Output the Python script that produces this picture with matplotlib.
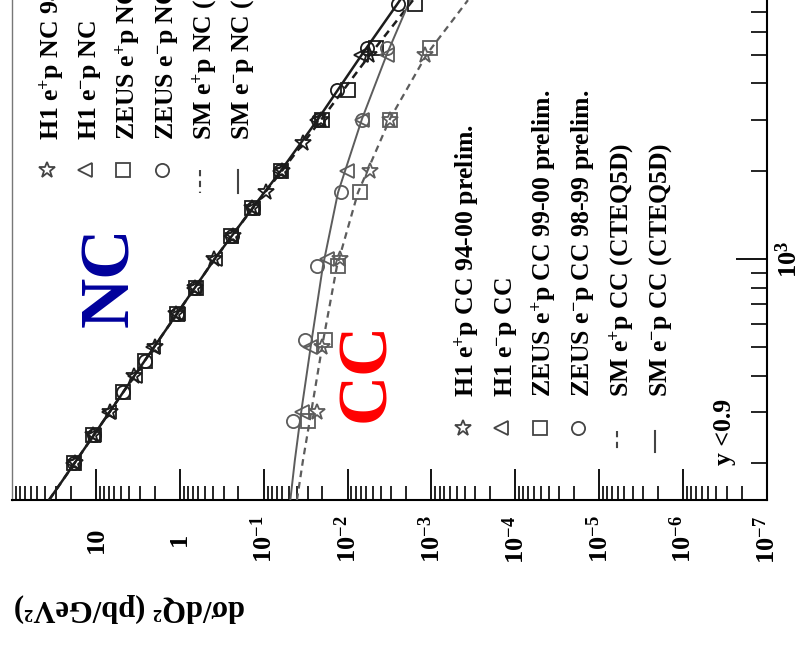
import matplotlib
matplotlib.use('Agg')
import matplotlib.pyplot as plt
import numpy as np
from matplotlib.ticker import LogLocator, NullFormatter

plt.rcParams['font.family'] = ['Liberation Serif', 'DejaVu Serif']
plt.rcParams['font.weight'] = 'bold'
plt.rcParams['mathtext.fontset'] = 'custom'
plt.rcParams['mathtext.rm'] = 'Liberation Serif:bold'
plt.rcParams['mathtext.it'] = 'Liberation Serif:italic:bold'
plt.rcParams['mathtext.bf'] = 'Liberation Serif:bold'
plt.rcParams['mathtext.default'] = 'rm'

# --- SM curves (Q2 in GeV^2, dsigma/dQ2 in pb/GeV^2) ---
sm_nc_q2 = [150, 200, 300, 500, 700, 1000, 1500, 2000, 3000, 5000, 7700]
sm_nc_em = [36.2, 18.1, 6.87, 2.03, 0.908, 0.386, 0.135, 0.0630, 0.0228, 0.00680, 0.00237]
sm_nc_ep = [36.2, 18.1, 6.87, 2.03, 0.908, 0.386, 0.134, 0.0610, 0.0207, 0.00543, 0.00166]

sm_cc_q2 = [150, 205, 297, 528, 945, 1690, 3020, 5040, 7700]
sm_cc_em = [0.0481, 0.0425, 0.0359, 0.0268, 0.0197, 0.0130, 0.00673, 0.00339, 0.00180]
sm_cc_ep = [0.0401, 0.0340, 0.0273, 0.0195, 0.0134, 0.00752, 0.00313, 0.00113, 0.000367]

# --- NC data ---
h1_nc_ep_q2 = [200, 250, 300, 400, 500, 650, 800, 1000, 1200, 1500, 1700, 2000, 2500, 3000, 5000]
h1_nc_ep = [17.6, 10.9, 6.7, 3.5, 2.0, 1.10, 0.65, 0.39, 0.235, 0.137, 0.094, 0.060, 0.034, 0.0205, 0.0056]
h1_nc_em_q2 = [200, 250, 300, 400, 500, 650, 800, 1000, 1200, 1500, 2000, 3000, 5000]
h1_nc_em = [18.5, 10.4, 6.9, 3.4, 2.06, 1.06, 0.67, 0.38, 0.245, 0.133, 0.064, 0.0232, 0.0070]
zeus_nc_ep_q2 = [200, 250, 350, 450, 650, 800, 1200, 1500, 2000, 3000, 3800, 5300, 7500]
zeus_nc_ep = [18.0, 10.7, 4.8, 2.58, 1.09, 0.64, 0.243, 0.136, 0.062, 0.0203, 0.0099, 0.0046, 0.00155]
zeus_nc_em_q2 = [200, 250, 350, 450, 650, 800, 1200, 1500, 2000, 3000, 3800, 5300, 7500]
zeus_nc_em = [18.2, 10.5, 4.7, 2.62, 1.07, 0.66, 0.238, 0.134, 0.0635, 0.0226, 0.0133, 0.0059, 0.00252]

# --- CC data ---
h1_cc_ep_q2 = [300, 500, 1000, 2000, 3000, 5000]
h1_cc_ep = [0.0232, 0.0202, 0.0123, 0.00540, 0.00310, 0.00120]
h1_cc_em_q2 = [300, 500, 1000, 2000, 3000, 5000]
h1_cc_em = [0.0350, 0.0281, 0.0176, 0.0102, 0.00670, 0.00340]
zeus_cc_ep_q2 = [280, 530, 950, 1700, 3000, 5300]
zeus_cc_ep = [0.0296, 0.0186, 0.0130, 0.00711, 0.00313, 0.00104]
zeus_cc_em_q2 = [280, 530, 950, 1700, 3000, 5300]
zeus_cc_em = [0.0448, 0.0322, 0.0232, 0.0120, 0.00673, 0.00339]

sigma_ticks = [1e1, 1e0, 1e-1, 1e-2, 1e-3, 1e-4, 1e-5, 1e-6, 1e-7]
sigma_labels = ['10', '1', '$10^{-1}$', '$10^{-2}$', '$10^{-3}$', '$10^{-4}$',
                '$10^{-5}$', '$10^{-6}$', '$10^{-7}$']
q2_ticks = [1e3]
q2_labels = ['$10^{3}$']

nc_labels = ['H1 e$^{+}$p NC 94-00 prelim.', 'H1 e$^{-}$p NC',
             'ZEUS e$^{+}$p NC 99-00 prelim.', 'ZEUS e$^{-}$p NC 98-99 prelim.',
             'SM e$^{+}$p NC (CTEQ5D)', 'SM e$^{-}$p NC (CTEQ5D)']
cc_labels = ['H1 e$^{+}$p CC 94-00 prelim.', 'H1 e$^{-}$p CC',
             'ZEUS e$^{+}$p CC 99-00 prelim.', 'ZEUS e$^{-}$p CC 98-99 prelim.',
             'SM e$^{+}$p CC (CTEQ5D)', 'SM e$^{-}$p CC (CTEQ5D)']

NC_COL = '#1c1c1c'
CC_COL = '#5c5c5c'
DASH = (0, (3, 2.2))
MARKERS = {'h1_ep': '*', 'h1_em': '<', 'zeus_ep': 's', 'zeus_em': 'o'}
MSIZE = {'*': 12, '<': 10, 's': 9.5, 'o': 9.5}

W, H = 812, 651
AX_L, AX_R, AX_B = 12, 767, 500  # pixel frame of the axes (top runs off the image)

fig = plt.figure(figsize=(W / 100, H / 100), dpi=100)
ax = fig.add_axes([AX_L / W, (H - AX_B) / H, (AX_R - AX_L) / W, AX_B / H])
# chart is drawn turned on its side: cross section runs left->right, Q2 runs up
ax.set_xscale('log')
ax.set_yscale('log')
ax.set_xlim(1e2, 1e-7)
ax.set_ylim(150, 7710)


def frac(px, py):
    # pixel position in the picture -> axes fraction
    return (px - AX_L) / (AX_R - AX_L), (AX_B - py) / AX_B


def draw_points(q2, sig, marker, col):
    ax.plot(sig, q2, ls='none', marker=marker, ms=MSIZE[marker], mfc='none',
            mec=col, mew=1.3, zorder=4)


# SM lines
ax.plot(sm_nc_ep, sm_nc_q2, color=NC_COL, lw=1.8, ls=DASH, zorder=3)
ax.plot(sm_nc_em, sm_nc_q2, color=NC_COL, lw=1.8, zorder=3)
ax.plot(sm_cc_ep, sm_cc_q2, color=CC_COL, lw=1.6, ls=DASH, zorder=3)
ax.plot(sm_cc_em, sm_cc_q2, color=CC_COL, lw=1.4, zorder=3)

# data
draw_points(h1_nc_ep_q2, h1_nc_ep, MARKERS['h1_ep'], NC_COL)
draw_points(h1_nc_em_q2, h1_nc_em, MARKERS['h1_em'], NC_COL)
draw_points(zeus_nc_ep_q2, zeus_nc_ep, MARKERS['zeus_ep'], NC_COL)
draw_points(zeus_nc_em_q2, zeus_nc_em, MARKERS['zeus_em'], NC_COL)
draw_points(h1_cc_ep_q2, h1_cc_ep, MARKERS['h1_ep'], CC_COL)
draw_points(h1_cc_em_q2, h1_cc_em, MARKERS['h1_em'], CC_COL)
draw_points(zeus_cc_ep_q2, zeus_cc_ep, MARKERS['zeus_ep'], CC_COL)
draw_points(zeus_cc_em_q2, zeus_cc_em, MARKERS['zeus_em'], CC_COL)

# axes styling
ax.spines['top'].set_visible(False)
ax.spines['left'].set_color('#777777')
ax.spines['left'].set_linewidth(1.0)
ax.spines['bottom'].set_linewidth(1.5)
ax.spines['right'].set_linewidth(1.5)

ax.set_xticks(sigma_ticks, labels=sigma_labels)
ax.xaxis.set_minor_locator(LogLocator(base=10, subs=np.arange(2, 10), numticks=30))
ax.xaxis.set_minor_formatter(NullFormatter())
ax.tick_params(axis='x', which='major', direction='in', length=22, width=1.3,
               labelsize=19, labelrotation=90, pad=28.5)
ax.tick_params(axis='x', which='minor', direction='in', length=10, width=1.2)
for lab in ax.get_xticklabels():
    lab.set_va('center')

ax.yaxis.tick_right()
ax.set_yticks(q2_ticks, labels=q2_labels)
ax.yaxis.set_minor_locator(LogLocator(base=10, subs=np.arange(2, 10), numticks=30))
ax.yaxis.set_minor_formatter(NullFormatter())
ax.tick_params(axis='y', which='major', direction='in', length=22, width=1.3,
               labelsize=19, labelrotation=90, pad=6)
ax.tick_params(axis='y', which='minor', direction='in', length=11.5, width=1.2)
for lab in ax.get_yticklabels():
    lab.set_va('center')

# axis title, upside down under the plot
fig.text(245 / W, 1 - 600 / H, 'dσ/dQ² (pb/GeV²)', rotation=180,
         rotation_mode='anchor', ha='left', va='baseline', fontsize=22)


def draw_legend(labels, x0, step, mark_y, text_y, line_y0, line_y1, col):
    styles = list(MARKERS.values())
    for i, lab in enumerate(labels):
        px = x0 + step * i
        if i < 4:
            fx, fy = frac(px, mark_y)
            ax.plot([fx], [fy], ls='none', marker=styles[i], ms=MSIZE[styles[i]],
                    mfc='none', mec=col, mew=1.3, transform=ax.transAxes,
                    clip_on=False, zorder=5)
        else:
            fx, fy0 = frac(px, line_y0)
            _, fy1 = frac(px, line_y1)
            ax.plot([fx, fx], [fy0, fy1], color=col, lw=1.5,
                    ls=DASH if i == 4 else '-', transform=ax.transAxes,
                    clip_on=False, zorder=5)
        tx, ty = frac(px + 11, text_y)
        ax.text(tx, ty, lab, transform=ax.transAxes, rotation=90,
                rotation_mode='anchor', ha='left', va='baseline',
                fontsize=18.5, color='black', clip_on=False)


draw_legend(nc_labels, 47, 38.2, 170, 140, 170, 193, '#444444')
draw_legend(cc_labels, 463, 38.5, 428, 397, 431, 452, '#444444')

tx, ty = frac(731, 465)
ax.text(tx, ty, 'y <0.9', transform=ax.transAxes, rotation=90,
        rotation_mode='anchor', ha='left', va='baseline', fontsize=18.5)

nx, ny = frac(111, 277)
ax.text(nx, ny, 'NC', transform=ax.transAxes, rotation=90, ha='center',
        va='center', fontsize=50, color='#00009c')
cx, cy = frac(367, 372)
ax.text(cx, cy, 'CC', transform=ax.transAxes, rotation=90, ha='center',
        va='center', fontsize=50, color='#ff0000')

fig.savefig('out.png', dpi=100)
